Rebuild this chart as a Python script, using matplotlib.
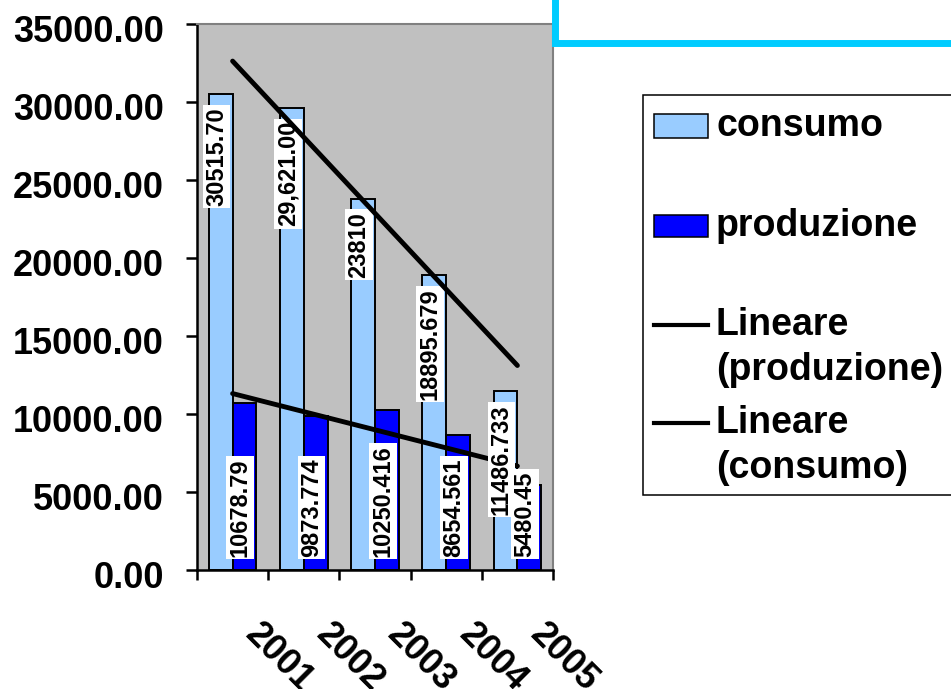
import numpy as np
import matplotlib
matplotlib.use("Agg")
import matplotlib.pyplot as plt
from matplotlib.patches import Rectangle
from matplotlib.lines import Line2D
from matplotlib.transforms import ScaledTranslation

# consumption / production per year
years = ['2001', '2002', '2003', '2004', '2005']
consumo = [30515.70, 29621.00, 23810, 18895.679, 11486.733]
produzione = [10678.79, 9873.774, 10250.416, 8654.561, 5480.45]
consumo_labels = ['30515.70', '29,621.00', '23810', '18895.679', '11486.733']
produzione_labels = ['10678.79', '9873.774', '10250.416', '8654.561', '5480.45']

plt.rcParams['font.family'] = ['Liberation Sans', 'DejaVu Sans']
plt.rcParams['font.weight'] = 'bold'

W, H = 951, 689
fig = plt.figure(figsize=(W / 100, H / 100), dpi=100)


def fx(px):
    return px / W


def fy(py):
    return 1 - py / H


ax = fig.add_axes([fx(197), fy(570), fx(553) - fx(197), fy(24) - fy(570)])
ax.set_facecolor('#C0C0C0')

x = np.arange(len(years))
bw = 1 / 3
ax.bar(x - bw / 2, consumo, bw, color='#99CCFF', edgecolor='black', linewidth=1.4, zorder=2)
ax.bar(x + bw / 2, produzione, bw, color='#0000FF', edgecolor='black', linewidth=1.4, zorder=2)

# linear trend lines
pc = np.polyfit(x, consumo, 1)
pp = np.polyfit(x, produzione, 1)
ax.plot(x, np.polyval(pp, x), color='black', lw=3.5, zorder=3, solid_capstyle='round')
ax.plot(x, np.polyval(pc, x), color='black', lw=3.5, zorder=5, solid_capstyle='round')

box = dict(boxstyle='square,pad=0.1', facecolor='white', edgecolor='none')
for i in range(len(years)):
    ax.annotate(consumo_labels[i], xy=(x[i] - bw / 2, consumo[i]), xytext=(-3, -9.5),
                textcoords='offset points', rotation=90, ha='center', va='top',
                fontsize=17, fontweight='bold', bbox=box, zorder=4)
    ax.annotate(produzione_labels[i], xy=(x[i] + bw / 2, 0), xytext=(-3, 9.5),
                textcoords='offset points', rotation=90, ha='center', va='bottom',
                fontsize=17, fontweight='bold', bbox=box, zorder=4)
    ax.annotate(years[i], xy=(x[i], 0), xytext=(8, -47.5), textcoords='offset points',
                rotation=-45, rotation_mode='anchor', ha='left', va='baseline',
                fontsize=26, fontweight='bold', annotation_clip=False)

ax.set_xlim(-0.5, 4.5)
ax.set_ylim(0, 35000)
ax.set_xticks(np.arange(-0.5, 5, 1))
ax.set_xticklabels([])
ax.set_yticks(np.arange(0, 35001, 5000))
ax.set_yticklabels(['%.2f' % v for v in np.arange(0, 35001, 5000)], fontsize=26, fontweight='bold')
ax.tick_params(axis='y', direction='out', length=8, width=1.8, pad=16)
ax.tick_params(axis='x', direction='out', length=7, width=1.8)
for lbl in ax.get_yticklabels():
    lbl.set_transform(lbl.get_transform() + ScaledTranslation(0, -0.05, fig.dpi_scale_trans))

for s in ['left', 'bottom']:
    ax.spines[s].set_color('black')
    ax.spines[s].set_linewidth(1.8)
for s in ['top', 'right']:
    ax.spines[s].set_color('#808080')
    ax.spines[s].set_linewidth(1.5)

# title frame in the top right corner
fig.add_artist(Rectangle((fx(555), fy(43)), 1, 1, transform=fig.transFigure,
                         facecolor='white', edgecolor='#00CCFF', linewidth=5, zorder=3))

# legend box
fig.add_artist(Rectangle((fx(643), fy(495)), fx(330), fy(95) - fy(495),
                         transform=fig.transFigure, facecolor='white',
                         edgecolor='black', linewidth=1.1, zorder=3))
fig.add_artist(Rectangle((fx(654), fy(138)), fx(54), fy(114) - fy(138),
                         transform=fig.transFigure, facecolor='#99CCFF',
                         edgecolor='black', linewidth=1.1, zorder=4))
fig.add_artist(Rectangle((fx(654), fy(237)), fx(54), fy(215) - fy(237),
                         transform=fig.transFigure, facecolor='#0000FF',
                         edgecolor='black', linewidth=1.1, zorder=4))
for yy in (325, 423):
    fig.add_artist(Line2D([fx(654), fx(708)], [fy(yy), fy(yy)], transform=fig.transFigure,
                          color='black', lw=3, zorder=4))

leg_text = [('consumo', 126), ('produzione', 226), ('Lineare', 325), ('(produzione)', 370),
            ('Lineare', 423), ('(consumo)', 468)]
for t, yy in leg_text:
    fig.text(fx(716), fy(yy), t, fontsize=27, fontweight='bold', ha='left', va='center', zorder=5)

fig.savefig('out.png', dpi=100)
